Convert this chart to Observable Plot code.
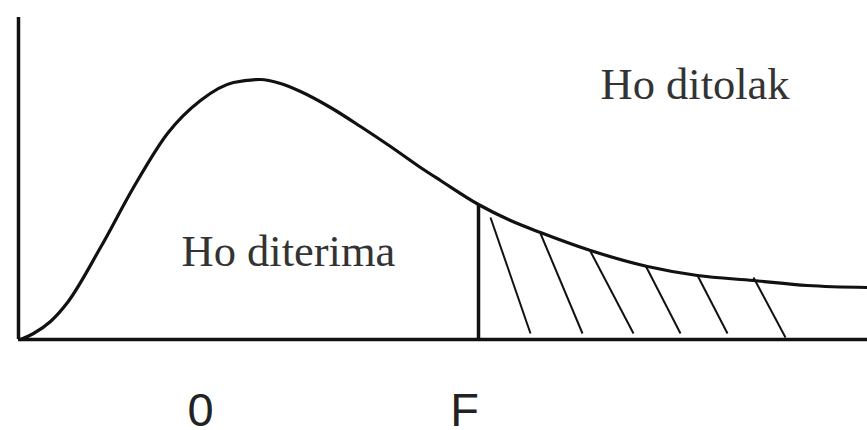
<!DOCTYPE html>
<html>
<head>
<meta charset="utf-8">
<script src="https://cdn.jsdelivr.net/npm/d3@7"></script>
<script src="https://cdn.jsdelivr.net/npm/@observablehq/plot@0.6"></script>
<style>
  html, body { margin: 0; padding: 0; background: #fff; }
  #chart svg { display: block; }
</style>
</head>
<body>
<div id="chart"></div>
<script>
// Curve (x, density-like height)
const curveX = [0.02, 0.15, 0.32, 0.49, 0.82, 1.15, 1.49, 1.82, 2.15, 2.42, 2.62, 2.82, 3.12, 3.42, 3.72, 4.02, 4.22, 4.60, 4.92, 5.22, 5.72, 6.29, 6.79, 7.35, 7.89, 8.49];
const curveY = [0.00, 0.06, 0.18, 0.37, 0.92, 1.52, 2.06, 2.39, 2.57, 2.60, 2.56, 2.48, 2.32, 2.13, 1.93, 1.72, 1.59, 1.35, 1.19, 1.07, 0.89, 0.73, 0.64, 0.59, 0.54, 0.52];

// Critical value line
const critX = 4.60;
const critY = 1.35;

// Hatch strokes in the rejection region
const hatchX1 = [4.72, 5.22, 5.72, 6.27, 6.79, 7.35];
const hatchY1 = [1.22, 1.06, 0.88, 0.74, 0.64, 0.62];
const hatchX2 = [5.12, 5.64, 6.15, 6.62, 7.09, 7.67];
const hatchY2 = [0.06, 0.06, 0.06, 0.06, 0.06, 0.02];

// Tick labels
const tickPos = [1.82, 4.46];
const tickLabels = ["0", "F"];

// Region labels
const regionText = ["Ho diterima", "Ho ditolak"];
const regionX = [1.63, 5.82];
const regionY = [0.74, 2.41];

const curve = curveX.map((x, i) => ({x, y: curveY[i]}));
const hatch = hatchX1.map((x, i) => ({x1: x, y1: hatchY1[i], x2: hatchX2[i], y2: hatchY2[i]}));
const regions = regionText.map((t, i) => ({t, x: regionX[i], y: regionY[i]}));

const chart = Plot.plot({
  width: 867,
  height: 430,
  marginLeft: 18,
  marginRight: 0,
  marginTop: 17,
  marginBottom: 91,
  x: {domain: [0, 8.49]},
  y: {domain: [0, 3.22]},
  style: {background: "#fff"},
  marks: [
    Plot.axisX(tickPos, {
      tickSize: 0,
      tickPadding: 53,
      tickFormat: (d) => tickLabels[tickPos.indexOf(d)],
      fontSize: 47,
      fontFamily: "Liberation Sans, Arial, sans-serif",
      fill: "#222",
      label: null
    }),
    Plot.axisY([], {label: null}),
    Plot.ruleX([0], {y1: 0, y2: 3.22, stroke: "#111", strokeWidth: 3.5}),
    Plot.ruleY([0], {x1: 0, x2: 8.49, stroke: "#111", strokeWidth: 3.5}),
    Plot.line(curve, {x: "x", y: "y", curve: "monotone-x", stroke: "#111", strokeWidth: 3.2}),
    Plot.ruleX([critX], {y1: 0, y2: critY, stroke: "#111", strokeWidth: 3.5}),
    Plot.link(hatch, {x1: "x1", y1: "y1", x2: "x2", y2: "y2", stroke: "#111", strokeWidth: 2}),
    Plot.text(regions, {
      x: "x", y: "y", text: "t",
      textAnchor: "start", lineAnchor: "bottom",
      fontSize: 44.5,
      fontFamily: "Liberation Serif, Times New Roman, serif",
      fill: "#333"
    })
  ]
});
document.getElementById("chart").appendChild(chart);
</script>
</body>
</html>
